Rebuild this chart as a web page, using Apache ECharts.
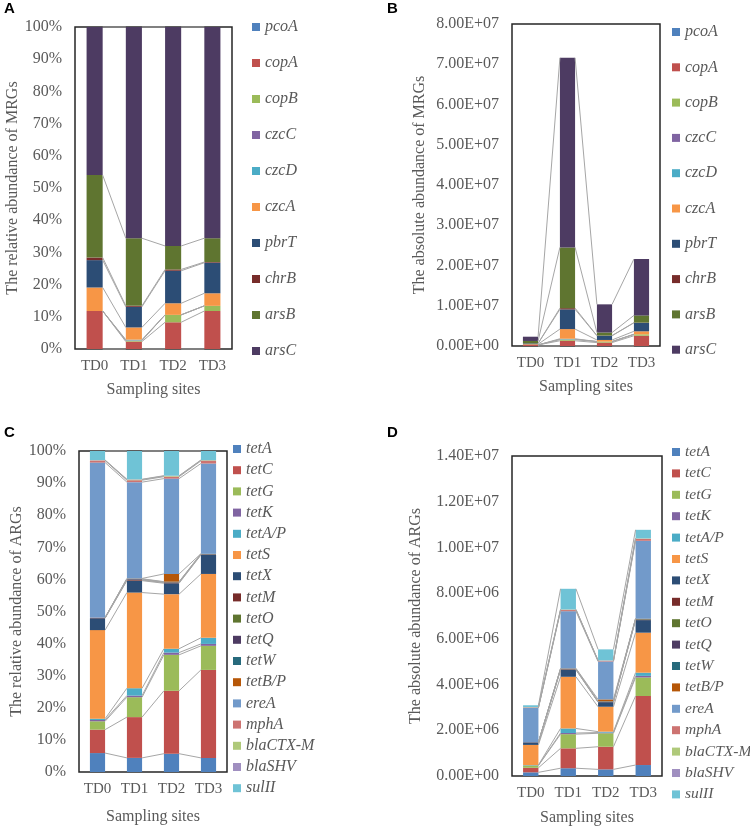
<!DOCTYPE html>
<html><head><meta charset="utf-8">
<script src="https://cdn.jsdelivr.net/npm/echarts@6/dist/echarts.min.js"></script>
<style>html,body{margin:0;padding:0;background:#fff}#c{width:750px;height:829px}</style>
</head><body><div id="c"></div>
<script>
// ---------- DATA ----------
const sites = ['TD0', 'TD1', 'TD2', 'TD3'];

const mrgGenes = ['pcoA', 'copA', 'copB', 'czcC', 'czcD', 'czcA', 'pbrT', 'chrB', 'arsB', 'arsC'];
// relative abundance (%) per gene, values for TD0..TD3
const mrgRelative = [
  [0, 0, 0, 0],            // pcoA
  [11.8, 2.3, 8.3, 11.8],  // copA
  [0, 0.3, 2.3, 1.6],      // copB
  [0, 0.1, 0, 0],          // czcC
  [0, 0.2, 0, 0],          // czcD
  [7.3, 3.8, 3.6, 3.9],    // czcA
  [8.5, 6.4, 10.1, 9.5],   // pbrT
  [0.8, 0.3, 0.4, 0.2],    // chrB
  [25.6, 21.0, 7.3, 7.4],  // arsB
  [46.0, 65.6, 68.0, 65.6] // arsC
];
// absolute abundance (copies) per gene
const mrgAbsolute = [
  [0, 0, 0, 0],                          // pcoA
  [270000, 1300000, 850000, 2550000],    // copA
  [0, 300000, 250000, 350000],           // copB
  [0, 50000, 0, 0],                      // czcC
  [0, 150000, 0, 0],                     // czcD
  [170000, 2400000, 400000, 750000],     // czcA
  [200000, 4900000, 1050000, 2100000],   // pbrT
  [20000, 300000, 50000, 50000],         // chrB
  [590000, 15100000, 750000, 1800000],   // arsB
  [1060000, 47100000, 7000000, 14000000] // arsC
];

const argGenes = ['tetA', 'tetC', 'tetG', 'tetK', 'tetA/P', 'tetS', 'tetX', 'tetM', 'tetO', 'tetQ', 'tetW', 'tetB/P', 'ereA', 'mphA', 'blaCTX-M', 'blaSHV', 'sulII'];
const argRelative = [
  [5.9, 4.4, 5.7, 4.4],     // tetA
  [7.3, 12.7, 19.6, 27.4],  // tetC
  [2.6, 6.2, 11.2, 7.5],    // tetG
  [0.4, 0.5, 0.7, 0.6],     // tetK
  [0.4, 2.3, 1.2, 1.9],     // tetA/P
  [27.6, 29.8, 17.0, 19.9], // tetS
  [3.7, 3.7, 3.4, 5.9],     // tetX
  [0.1, 0.2, 0.2, 0.1],     // tetM
  [0, 0.1, 0.1, 0.1],       // tetO
  [0.1, 0.2, 0.1, 0.1],     // tetQ
  [0, 0.1, 0.1, 0.1],       // tetW
  [0, 0.1, 2.4, 0],         // tetB/P
  [48.3, 30.0, 29.7, 28.1], // ereA
  [0.6, 0.6, 0.6, 0.8],     // mphA
  [0.1, 0.2, 0.2, 0.2],     // blaCTX-M
  [0.1, 0.1, 0.1, 0.1],     // blaSHV
  [2.8, 8.8, 7.7, 2.8]      // sulII
];
const argAbsolute = [
  [160000, 340000, 290000, 480000],     // tetA
  [200000, 870000, 990000, 3020000],    // tetC
  [100000, 620000, 590000, 810000],     // tetG
  [10000, 50000, 30000, 70000],         // tetK
  [10000, 200000, 40000, 140000],       // tetA/P
  [880000, 2260000, 1090000, 1750000],  // tetS
  [110000, 300000, 200000, 550000],     // tetX
  [5000, 20000, 10000, 20000],          // tetM
  [0, 10000, 10000, 20000],             // tetO
  [5000, 20000, 10000, 20000],          // tetQ
  [0, 10000, 10000, 10000],             // tetW
  [0, 10000, 80000, 0],                 // tetB/P
  [1500000, 2500000, 1660000, 3400000], // ereA
  [20000, 50000, 30000, 80000],         // mphA
  [10000, 20000, 10000, 20000],         // blaCTX-M
  [5000, 10000, 10000, 10000],          // blaSHV
  [80000, 900000, 480000, 370000]       // sulII
];

const mrgColors = ['#4F81BD', '#C0504D', '#9BBB59', '#8064A2', '#4BACC6', '#F79646', '#2C4D75', '#772C2A', '#5F7530', '#4D3B62'];
const argColors = ['#4F81BD', '#C0504D', '#9BBB59', '#8064A2', '#4BACC6', '#F79646', '#2C4D75', '#772C2A', '#5F7530', '#4D3B62', '#276A7C', '#B65708', '#729ACA', '#CD7371', '#AFC97A', '#A08FC0', '#6FC3D6'];

// ---------- CHART ----------
const chart = echarts.init(document.getElementById('c'), null, { renderer: 'canvas' });
const SERIF = 'Liberation Serif';
const GRAY = '#595959';
const BAR_RATIO = 0.41;

function sci(v) {
  if (v === 0) return '0.00E+00';
  const e = Math.floor(Math.log10(v) + 1e-9);
  const m = v / Math.pow(10, e);
  return m.toFixed(2) + 'E+' + String(e).padStart(2, '0');
}

const grids = [
  { left: 75, top: 27, width: 157, height: 322 },
  { left: 512, top: 24, width: 148, height: 322 },
  { left: 79, top: 451, width: 148, height: 321 },
  { left: 512, top: 456, width: 150, height: 320 }
];
const panels = [
  { genes: mrgGenes, data: mrgRelative, colors: mrgColors, max: 100, interval: 10, fmt: v => v + '%', name: 'The relative abundance of MRGs', nameGap: 48,
    legend: { left: 252, top: 19, itemGap: 20, fs: 16 } },
  { genes: mrgGenes, data: mrgAbsolute, colors: mrgColors, max: 8e7, interval: 1e7, fmt: sci, name: 'The absolute abundance of MRGs', nameGap: 84,
    legend: { left: 672, top: 24, itemGap: 19.3, fs: 16 } },
  { genes: argGenes, data: argRelative, colors: argColors, max: 100, interval: 10, fmt: v => v + '%', name: 'The relative abundance of ARGs', nameGap: 53,
    legend: { left: 233, top: 441, itemGap: 5.2, fs: 16 } },
  { genes: argGenes, data: argAbsolute, colors: argColors, max: 1.4e7, interval: 2e6, fmt: sci, name: 'The absolute abundance of ARGs', nameGap: 88,
    legend: { left: 672, top: 444, itemGap: 5.4, fs: 15.5 } }
];
const xNameGaps = [33, 33, 37, 34];

const option = {
  animation: false,
  backgroundColor: '#fff',
  grid: grids.map(g => Object.assign({ show: true, borderColor: '#262626', borderWidth: 1.5, backgroundColor: 'transparent' }, g)),
  xAxis: panels.map((p, i) => ({
    type: 'category', gridIndex: i, data: sites,
    axisLine: { show: false }, axisTick: { show: false },
    axisLabel: { color: GRAY, fontFamily: SERIF, fontSize: 15, margin: 10, interval: 0, hideOverlap: false },
    name: 'Sampling sites', nameLocation: 'middle', nameGap: xNameGaps[i],
    nameTextStyle: { color: GRAY, fontFamily: SERIF, fontSize: 16 }
  })),
  yAxis: panels.map((p, i) => ({
    type: 'value', gridIndex: i, min: 0, max: p.max, interval: p.interval,
    splitLine: { show: false }, axisLine: { show: false }, axisTick: { show: false },
    axisLabel: { color: GRAY, fontFamily: SERIF, fontSize: 16, margin: 13, formatter: p.fmt },
    name: p.name, nameLocation: 'middle', nameGap: p.nameGap,
    nameTextStyle: { color: GRAY, fontFamily: SERIF, fontSize: 16 }
  })),
  legend: panels.map((p, i) => ({
    data: p.genes, orient: 'vertical', left: p.legend.left, top: p.legend.top, itemGap: p.legend.itemGap,
    padding: 0, itemWidth: 8, itemHeight: 8, icon: 'rect', selectedMode: false,
    textStyle: { color: GRAY, fontFamily: SERIF, fontStyle: 'italic', fontSize: p.legend.fs, lineHeight: 16 }
  })),
  graphic: [
    { type: 'text', left: 4, top: 1, style: { text: 'A', font: 'bold 15px "Liberation Sans"', fill: '#000' } },
    { type: 'text', left: 387, top: 1, style: { text: 'B', font: 'bold 15px "Liberation Sans"', fill: '#000' } },
    { type: 'text', left: 4, top: 425, style: { text: 'C', font: 'bold 15px "Liberation Sans"', fill: '#000' } },
    { type: 'text', left: 387, top: 425, style: { text: 'D', font: 'bold 15px "Liberation Sans"', fill: '#000' } }
  ],
  series: []
};

panels.forEach((p, pi) => {
  p.genes.forEach((g, gi) => {
    option.series.push({
      type: 'bar', name: g, stack: 'p' + pi, xAxisIndex: pi, yAxisIndex: pi,
      barWidth: (BAR_RATIO * 100) + '%', data: p.data[gi],
      itemStyle: { color: p.colors[gi] }, emphasis: { disabled: true }
    });
  });
  // cumulative tops for series lines
  const cum = [];
  let run = sites.map(() => 0);
  p.data.forEach(row => {
    run = run.map((v, j) => v + row[j]);
    cum.push(run.slice());
  });
  option.series.push({
    type: 'custom', xAxisIndex: pi, yAxisIndex: pi, silent: true, z: 5,
    data: sites.slice(0, -1).map((s, j) => [j, 0]),
    renderItem: function (params, api) {
      const j = api.value(0);
      const band = api.size([1, 0])[0];
      const hw = band * BAR_RATIO / 2;
      const children = cum.map(levels => {
        const a = api.coord([j, levels[j]]);
        const b = api.coord([j + 1, levels[j + 1]]);
        return {
          type: 'line',
          shape: { x1: a[0] + hw, y1: a[1], x2: b[0] - hw, y2: b[1] },
          style: { stroke: '#A6A6A6', lineWidth: 1 }
        };
      });
      return { type: 'group', children: children };
    }
  });
});

chart.setOption(option);
</script></body></html>
